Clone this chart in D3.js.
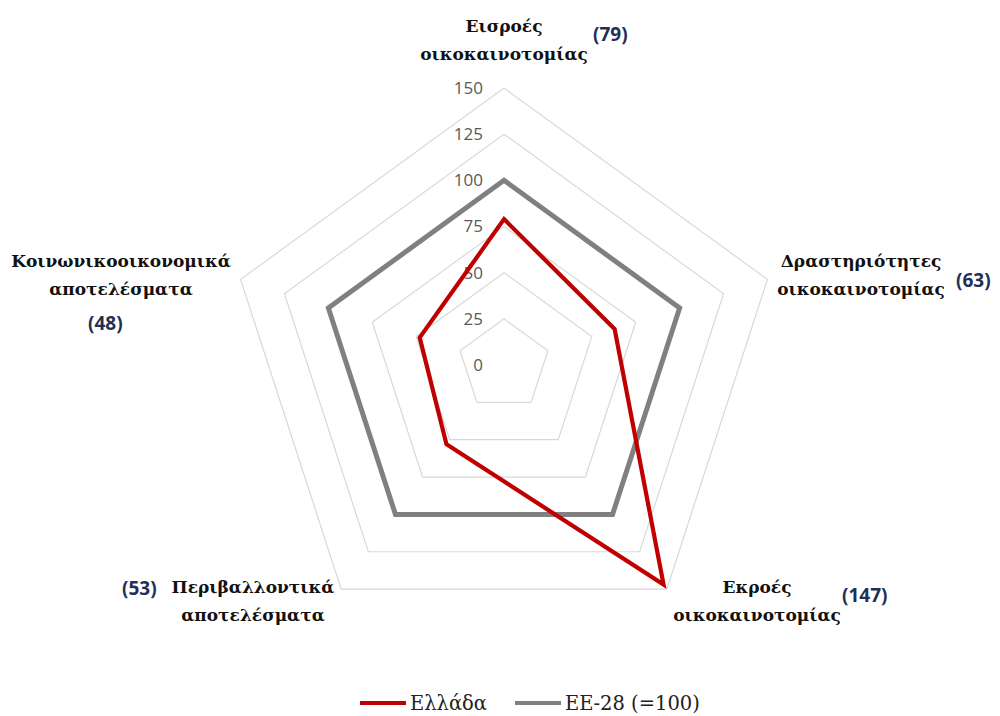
<!DOCTYPE html>
<html lang="el">
<head>
<meta charset="UTF-8" />
<title>Radar</title>
<script src="https://cdn.jsdelivr.net/npm/d3@7"></script>
<style>
  body { margin: 0; background: #fff; }
  .cat { font-family: "DejaVu Serif", serif; font-weight: bold; font-size: 17px; fill: #111; }
  .val { font-family: "Open Sans", sans-serif; font-weight: bold; font-size: 19px; fill: #1f2f55; }
  .tick { font-family: "Open Sans", sans-serif; font-size: 17px; fill: #595959; }
  .legend { font-family: "DejaVu Serif", serif; font-size: 19.5px; fill: #222; }
</style>
</head>
<body>
<script>
  // data
  var categories = [
    ["Εισροές", "οικοκαινοτομίας"],
    ["Δραστηριότητες", "οικοκαινοτομίας"],
    ["Εκροές", "οικοκαινοτομίας"],
    ["Περιβαλλοντικά", "αποτελέσματα"],
    ["Κοινωνικοοικονομικά", "αποτελέσματα"]
  ];
  var greece = [79, 63, 147, 53, 48];
  var eu28 = [100, 100, 100, 100, 100];
  var tickValues = [0, 25, 50, 75, 100, 125, 150];
  var seriesNames = ["Ελλάδα", "ΕΕ-28 (=100)"];

  var w = 1000, h = 716;
  var cx = 504, cy = 365;

  var svg = d3.select("body").append("svg")
              .attr("width", w)
              .attr("height", h);

  var rScale = d3.scaleLinear().domain([0, 150]).range([0, 277]);
  var angle = d3.scaleLinear().domain([0, categories.length]).range([0, 2 * Math.PI]);

  function pt(i, v) {
    var a = angle(i), r = rScale(v);
    return [cx + r * Math.sin(a), cy - r * Math.cos(a)];
  }

  var line = d3.line();

  // grid pentagons
  tickValues.filter(function(t) { return t > 0; }).forEach(function(t) {
    var pts = categories.map(function(c, i) { return pt(i, t); });
    svg.append("path")
       .attr("d", line(pts) + "Z")
       .attr("fill", "none")
       .attr("stroke", "#d9d9d9")
       .attr("stroke-width", 1.2);
  });

  // tick labels
  svg.selectAll(".tick")
     .data(tickValues)
     .enter()
     .append("text")
     .attr("class", "tick")
     .attr("x", 483)
     .attr("y", function(d) { return cy - rScale(d); })
     .attr("dy", "0.35em")
     .attr("text-anchor", "end")
     .text(function(d) { return d; });

  // series
  var series = [
    { values: eu28, color: "#808080", width: 5 },
    { values: greece, color: "#c00000", width: 4.2 }
  ];
  series.forEach(function(s) {
    var pts = s.values.map(function(v, i) { return pt(i, v); });
    svg.append("path")
       .attr("d", line(pts) + "Z")
       .attr("fill", "none")
       .attr("stroke", s.color)
       .attr("stroke-width", s.width)
       .attr("stroke-linejoin", "miter");
  });

  // category label layout: [center x, first baseline, value x, value baseline]
  var labelPos = [
    [504, 32, 593, 41],
    [861, 267, 956, 287],
    [757, 593, 842, 602],
    [253, 593, 122, 595],
    [121, 267, 88, 330]
  ];

  categories.forEach(function(c, i) {
    var p = labelPos[i];
    c.forEach(function(s, j) {
      svg.append("text")
         .attr("class", "cat")
         .attr("x", p[0])
         .attr("y", p[1] + j * 28)
         .attr("text-anchor", "middle")
         .text(s);
    });
    svg.append("text")
       .attr("class", "val")
       .attr("x", p[2])
       .attr("y", p[3])
       .text("(" + greece[i] + ")");
  });

  // legend
  var legend = [
    { x: 360, color: "#c00000", name: seriesNames[0] },
    { x: 515, color: "#808080", name: seriesNames[1] }
  ];
  legend.forEach(function(l) {
    svg.append("line")
       .attr("x1", l.x).attr("x2", l.x + 46)
       .attr("y1", 703).attr("y2", 703)
       .attr("stroke", l.color)
       .attr("stroke-width", 4);
    svg.append("text")
       .attr("class", "legend")
       .attr("x", l.x + 50)
       .attr("y", 710)
       .text(l.name);
  });
</script>
</body>
</html>
